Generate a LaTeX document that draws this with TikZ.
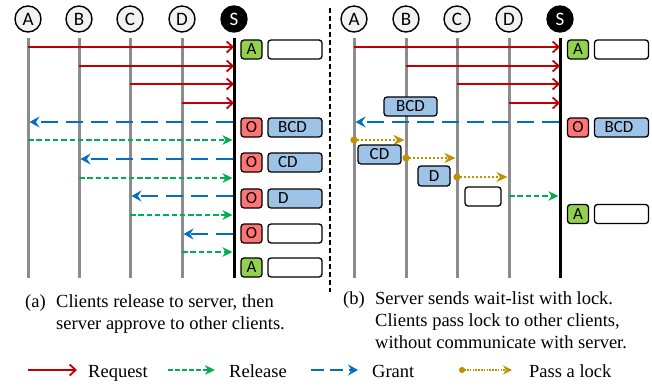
\documentclass[tikz,border=0pt]{standalone}
\usepackage{fontspec}
\setmainfont{Liberation Serif}
\newfontfamily\lab{Carlito}
\usetikzlibrary{arrows.meta}

\definecolor{reqred}{HTML}{C00000}
\definecolor{relgreen}{HTML}{00B050}
\definecolor{grantblue}{HTML}{0070C0}
\definecolor{passgold}{HTML}{BF9000}
\definecolor{lifegray}{HTML}{8C8C8C}
\definecolor{circfill}{HTML}{F2F2F2}
\definecolor{okgreen}{HTML}{92D050}
\definecolor{waitred}{HTML}{FF7575}
\definecolor{listblue}{HTML}{9DC3E6}

\tikzset{
  lifeline/.style={line width=3pt, draw=lifegray},
  srvline/.style={line width=3pt, draw=black},
  client/.style={circle, draw, line width=1.4pt, fill=circfill, minimum size=26pt,
    inner sep=0pt, font=\lab\fontsize{19}{19}\selectfont},
  server/.style={client, fill=black, text=white},
  req/.style={draw=reqred, line width=1.8pt,
    -{Straight Barb[length=6pt,width=11pt,line width=1.8pt]}},
  rel/.style={draw=relgreen, line width=1.9pt, dash pattern=on 5.5pt off 2.8pt,
    -{Stealth[length=10pt,width=9.5pt,inset=3pt]}},
  grant/.style={draw=grantblue, line width=1.9pt, dash pattern=on 17pt off 8pt,
    -{Stealth[length=10pt,width=11pt,inset=3.5pt]}},
  pass/.style={draw=passgold, line width=2pt, dash pattern=on 2pt off 2pt,
    {Circle[length=7pt]}-{Stealth[length=11pt,width=10pt,inset=3.5pt]},
    shorten <=-3.5pt},
  flag/.style={draw, line width=1.3pt, rounded corners=3pt, minimum width=21pt,
    minimum height=19pt, inner sep=0pt, font=\lab\fontsize{17}{17}\selectfont},
  okflag/.style={flag, fill=okgreen},
  waitflag/.style={flag, fill=waitred},
  waitlist/.style={flag, text width=34pt, inner xsep=10pt, align=left, fill=white},
  msgbox/.style={flag, fill=listblue},
  captext/.style={anchor=base west, inner sep=0pt, font=\fontsize{18.5}{22}\selectfont},
}

\begin{document}
\begin{tikzpicture}[x=1pt,y=-1pt]
\useasboundingbox (0,0) rectangle (652,385);

% ---------- (a) lock released through the server ----------
\foreach \n/\x in {A/28,B/79,C/130,D/182}{
  \draw[lifeline] (\x,38) -- (\x,278);
  \node[client] (l\n) at (\x,19) {\n};
}
\draw[srvline] (234,38) -- (234,278);
\node[server] (lS) at (234,19) {S};

\draw[req] (lA |- 0,47) -- (lS |- 0,47);
\draw[req] (lB |- 0,66) -- (lS |- 0,66);
\draw[req] (lC |- 0,84) -- (lS |- 0,84);
\draw[req] (lD |- 0,103) -- (lS |- 0,103);
\begin{scope}[shorten >=1.5pt]
\draw[grant, shorten <=1.5pt] (lS |- 0,122) -- (lA |- 0,122);
\draw[rel] (lA |- 0,140) -- (lS |- 0,140);
\draw[grant, shorten <=1.5pt] (lS |- 0,159) -- (lB |- 0,159);
\draw[rel] (lB |- 0,178) -- (lS |- 0,178);
\draw[grant, shorten <=1.5pt] (lS |- 0,196) -- (lC |- 0,196);
\draw[rel] (lC |- 0,215) -- (lS |- 0,215);
\draw[grant, shorten <=1.5pt] (lS |- 0,234) -- (lD |- 0,234);
\draw[rel] (lD |- 0,252) -- (lS |- 0,252);
\end{scope}

\node[okflag]   (la1) at (251.5,49.5) {A};
\node[waitlist] (lw1) at (295,49.5) {};
\node[waitflag] (la2) at (251.5,127.5) {O};
\node[waitlist, fill=listblue] (lw2) at (295,127.5) {BCD};
\node[waitflag] (la3) at (251.5,162.5) {O};
\node[waitlist, fill=listblue] (lw3) at (295,162.5) {CD};
\node[waitflag] (la4) at (251.5,198.5) {O};
\node[waitlist, fill=listblue] (lw4) at (295,198.5) {D};
\node[waitflag] (la5) at (251.5,233.5) {O};
\node[waitlist] (lw5) at (295,233.5) {};
\node[okflag]   (la6) at (251.5,267.5) {A};
\node[waitlist] (lw6) at (295,267.5) {};

% divider
\draw[line width=1.4pt, dash pattern=on 5pt off 3pt] (330,8) -- (330,292);

% ---------- (b) lock passed between clients ----------
\foreach \n/\x in {A/354,B/406,C/457,D/509}{
  \draw[lifeline] (\x,38) -- (\x,278);
  \node[client] (r\n) at (\x,19) {\n};
}
\draw[srvline] (560,38) -- (560,278);
\node[server] (rS) at (560,19) {S};

\draw[req] (rA |- 0,47) -- (rS |- 0,47);
\draw[req] (rB |- 0,66) -- (rS |- 0,66);
\draw[req] (rC |- 0,84) -- (rS |- 0,84);
\draw[req] (rD |- 0,103) -- (rS |- 0,103);
\begin{scope}[shorten >=1.5pt]
\draw[grant, shorten <=1.5pt] (rS |- 0,122) -- (rA |- 0,122);
\draw[pass] (rA |- 0,140) -- (rB |- 0,140);
\draw[pass] (rB |- 0,158) -- (rC |- 0,158);
\draw[pass] (rC |- 0,177) -- (rD |- 0,177);
\draw[rel] (rD |- 0,196) -- (rS |- 0,196);
\end{scope}

\node[msgbox, minimum width=53pt] (m1) at (410.5,106.5) {BCD};
\node[msgbox, minimum width=43pt] (m2) at (379.5,154.5) {CD};
\node[msgbox, minimum width=32pt, minimum height=20pt] (m3) at (434,176) {D};
\node[flag, minimum width=36pt, fill=white] (m4) at (483,196.5) {};

\node[okflag]   (ra1) at (578,49.5) {A};
\node[waitlist] (rw1) at (621.5,49.5) {};
\node[waitflag] (ra2) at (578,127.5) {O};
\node[waitlist, fill=listblue] (rw2) at (621.5,127.5) {BCD};
\node[okflag]   (ra3) at (578,214) {A};
\node[waitlist] (rw3) at (621.5,214) {};

% ---------- captions ----------
\node[captext] (ca1) at (25,307) {(a)};
\node[captext] (ca2) at (56,307) {Clients release to server, then};
\node[captext] (ca3) at (56,329) {server approve to other clients.};
\node[captext] (cb1) at (343,304) {(b)};
\node[captext] (cb2) at (375,304) {Server sends wait-list with lock.};
\node[captext] (cb3) at (375,326) {Clients pass lock to other clients,};
\node[captext] (cb4) at (375,348) {without communicate with server.};

% ---------- legend ----------
\coordinate (k1s) at (28,370);  \coordinate (k1e) at (77,370);
\coordinate (k2s) at (168,370); \coordinate (k2e) at (215,370);
\coordinate (k3s) at (311,370); \coordinate (k3e) at (358,370);
\coordinate (k4s) at (462,370); \coordinate (k4e) at (512,370);
\draw[req] (k1s) -- (k1e);
\draw[rel, dash pattern=on 4.5pt off 2.5pt] (k2s) -- (k2e);
\draw[grant, dash pattern=on 13pt off 6pt] (k3s) -- (k3e);
\draw[pass, line width=1.6pt, dash pattern=on 1.5pt off 1.3pt,
  {Circle[length=6pt]}-{Stealth[length=9pt,width=9pt,inset=3pt]}, shorten <=-3pt] (k4s) -- (k4e);
\node[captext] (t1) at (88,377) {Request};
\node[captext] (t2) at (229,377) {Release};
\node[captext] (t3) at (372,377) {Grant};
\node[captext] (t4) at (529,377) {Pass a lock};
\end{tikzpicture}
\end{document}
